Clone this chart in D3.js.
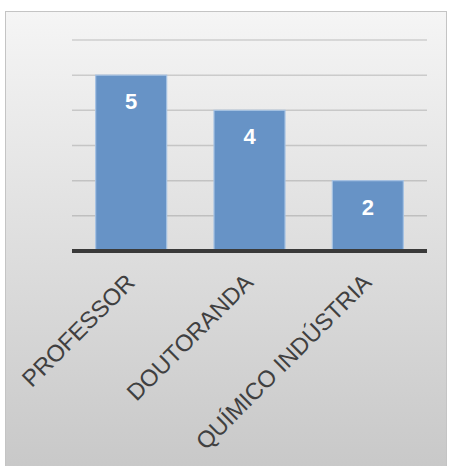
<!DOCTYPE html>
<html>
<head>
<meta charset="utf-8">
<script src="https://cdn.jsdelivr.net/npm/d3@7"></script>
<style>
  html, body { margin: 0; padding: 0; background: #ffffff; }
  svg { display: block; }
</style>
</head>
<body>
<div id="chart"></div>
<script>
// Occupation counts
const categories = ["PROFESSOR", "DOUTORANDA", "QUÍMICO INDÚSTRIA"];
const values = [5, 4, 2];
const yTicks = [0, 1, 2, 3, 4, 5, 6];

const W = 449, H = 466;
const plot = { left: 72, right: 427, top: 40, bottom: 251 };

const svg = d3.select("#chart").append("svg")
  .attr("width", W).attr("height", H);

const defs = svg.append("defs");
const grad = defs.append("linearGradient")
  .attr("id", "bg").attr("x1", 0).attr("y1", 0).attr("x2", 0).attr("y2", 1);
grad.append("stop").attr("offset", "0%").attr("stop-color", "#f5f5f5");
grad.append("stop").attr("offset", "100%").attr("stop-color", "#c7c7c7");

// Chart area with gradient fill
svg.append("rect")
  .attr("x", 5.5).attr("y", 11.5)
  .attr("width", 441).attr("height", 470)
  .attr("fill", "url(#bg)")
  .attr("stroke", "#c4c4c4").attr("stroke-width", 1);

const x = d3.scaleBand()
  .domain(categories)
  .range([plot.left, plot.right])
  .paddingInner(0.4).paddingOuter(0.2);

const y = d3.scaleLinear()
  .domain([0, 6])
  .range([plot.bottom, plot.top]);

// Horizontal gridlines
svg.append("g")
  .selectAll("line")
  .data(yTicks.filter(d => d > 0))
  .join("line")
  .attr("x1", plot.left).attr("x2", plot.right)
  .attr("y1", d => y(d)).attr("y2", d => y(d))
  .attr("stroke", "rgba(0,0,0,0.15)")
  .attr("stroke-width", 1.5);

// Bars
svg.append("g")
  .selectAll("rect")
  .data(values)
  .join("rect")
  .attr("x", (d, i) => x(categories[i]))
  .attr("y", d => y(d))
  .attr("width", x.bandwidth())
  .attr("height", d => y(0) - y(d))
  .attr("fill", "#6793c6")
  .attr("stroke", "#a6c2e3")
  .attr("stroke-width", 1.2);

// Value labels inside the bars
svg.append("g")
  .selectAll("text")
  .data(values)
  .join("text")
  .attr("x", (d, i) => x(categories[i]) + x.bandwidth() / 2)
  .attr("y", d => y(d) + 34)
  .attr("text-anchor", "middle")
  .attr("font-family", "Liberation Sans, Arial, sans-serif")
  .attr("font-weight", "bold")
  .attr("font-size", 22)
  .attr("fill", "#ffffff")
  .text(d => d);

// Category axis
const xAxis = svg.append("g")
  .attr("transform", `translate(0,${plot.bottom})`)
  .call(d3.axisBottom(x).tickSize(0).tickPadding(0));
xAxis.select(".domain")
  .attr("d", `M${plot.left},0H${plot.right}`)
  .attr("stroke", "#3a3a3a")
  .attr("stroke-width", 4);
xAxis.selectAll(".tick text")
  .attr("font-family", "Liberation Sans, Arial, sans-serif")
  .attr("font-size", 23.5)
  .attr("fill", "#404040")
  .attr("text-anchor", "end")
  .attr("dy", 0)
  .attr("y", 0)
  .attr("transform", "translate(5,33) rotate(-45)");
</script>
</body>
</html>
